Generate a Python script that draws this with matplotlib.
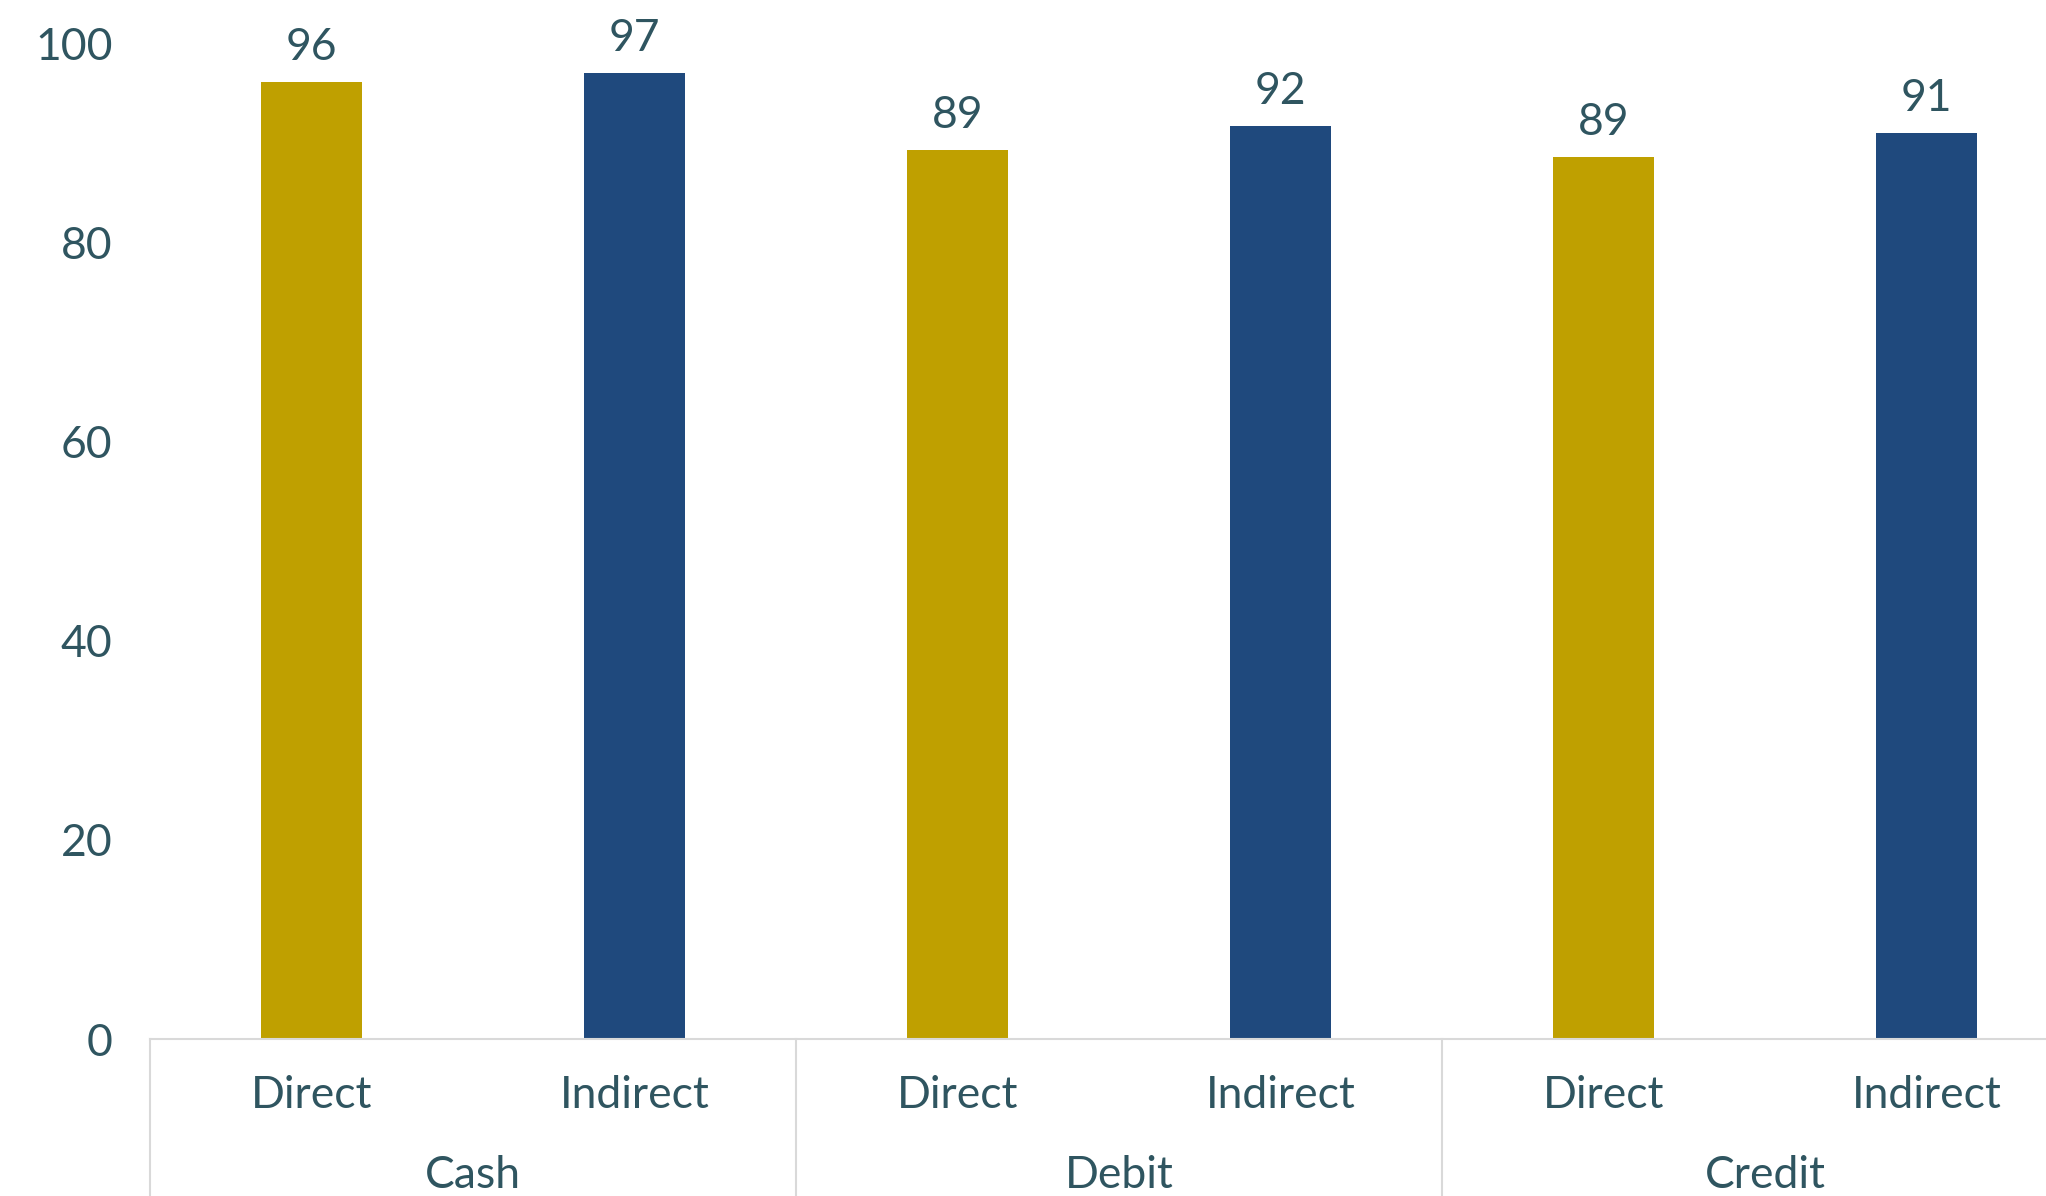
import matplotlib.pyplot as plt
import matplotlib.transforms as mtransforms
import numpy as np

# values
groups = ["Cash", "Debit", "Credit"]
channels = ["Direct", "Indirect"]
direct_vals = [96.1, 89.3, 88.6]
indirect_vals = [97.0, 91.7, 91.0]
yticks = [0, 20, 40, 60, 80, 100]

gold = "#BFA000"
navy = "#1F497D"
txt = "#2F5560"
grid_col = "#D9D9D9"

plt.rcParams['font.family'] = ['Lato', 'DejaVu Sans']
fs = 32

fig = plt.figure(figsize=(20.46, 11.96), dpi=100)
W, H = 2046, 1196
ax = fig.add_axes([150 / W, 157 / H, 1938 / W, 996 / H])

# slot i centred at i + 0.5, two slots per group
pos_direct = np.arange(len(groups)) * 2 + 0.5
pos_indirect = pos_direct + 1
bw = 0.315
b1 = ax.bar(pos_direct, direct_vals, width=bw, color=gold)
b2 = ax.bar(pos_indirect, indirect_vals, width=bw, color=navy)

for bars, vals in [(b1, direct_vals), (b2, indirect_vals)]:
    for b, v in zip(bars, vals):
        ax.annotate(f"{v:.0f}", (b.get_x() + b.get_width() / 2, v),
                    xytext=(0, 10), textcoords="offset points",
                    ha="center", va="bottom", fontsize=fs, color=txt)

ax.set_xlim(0, 2 * len(groups))
ax.set_ylim(0, 100)
ax.set_yticks(yticks)
ax.set_yticklabels([str(t) for t in yticks], fontsize=fs, color=txt)
ax.tick_params(axis="y", length=0, pad=27)
ax.set_xticks([])
for s in ["top", "right", "left"]:
    ax.spines[s].set_visible(False)
ax.spines["bottom"].set_color(grid_col)
ax.spines["bottom"].set_linewidth(1.5)

trans = mtransforms.blended_transform_factory(ax.transData, ax.transAxes)
# category labels under each bar
for i in range(len(groups)):
    for j, ch in enumerate(channels):
        ax.annotate(ch, (2 * i + j + 0.5, 0), xycoords=trans,
                    xytext=(0, -56 * 0.72), textcoords="offset points",
                    ha="center", va="center", fontsize=fs, color=txt)
    ax.annotate(groups[i], (2 * i + 1, 0), xycoords=trans,
                xytext=(0, -137 * 0.72), textcoords="offset points",
                ha="center", va="center", fontsize=fs, color=txt)

# group dividers below the axis
for xd in range(0, 2 * len(groups) + 1, 2):
    ax.plot([xd, xd], [0, -160 / 996], transform=trans, color=grid_col,
            lw=1.5, clip_on=False)

fig.savefig("out.png", dpi=100)
